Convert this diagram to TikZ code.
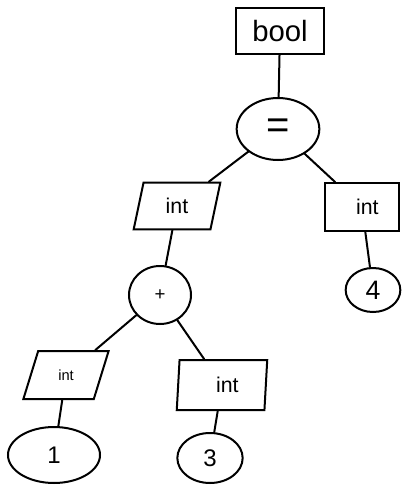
\documentclass[tikz,border=0pt]{standalone}
\usepackage{fontspec}
\setmainfont{Liberation Sans}
\usetikzlibrary{shapes.geometric}
\begin{document}
\begin{tikzpicture}[x=0.75pt,y=-0.75pt, line width=1.5pt, line cap=round,
  box/.style={draw, rectangle, inner sep=0pt},
  para/.style={draw, trapezium, trapezium left angle=#1, trapezium right angle=180-#1, trapezium stretches=true, inner sep=0pt},
  oval/.style={draw, ellipse, inner sep=0pt},
  fs/.style={font=\fontsize{#1}{#1}\selectfont}]
\useasboundingbox (0,0) rectangle (405,486);
\node[box, minimum width=66pt, minimum height=34.5pt, fs=22] (bool) at (280,31) {bool};
\node[oval, minimum width=62pt, minimum height=46.5pt, fs=30] (eq) at (278,129) {=};
\node[para=78, minimum width=65pt, minimum height=35pt, fs=16] (intL) at (177,206) {int};
\node[box, minimum width=56pt, minimum height=36pt, fs=16] (intR) at (362,207) {\hspace{8pt}int};
\node[oval, minimum width=46.5pt, minimum height=43.5pt, fs=14] (plus) at (160,295) {+};
\node[oval, minimum width=41pt, minimum height=33pt, fs=20] (four) at (373,290) {4};
\node[para=69, minimum width=64pt, minimum height=36pt, fs=11] (intBL) at (66,375) {int};
\node[oval, minimum width=69pt, minimum height=42pt, fs=18] (one) at (54,455) {1};
\node[para=86, minimum width=68pt, minimum height=37.5pt, fs=16] (intBR) at (222,385) {\hspace{8pt}int};
\node[oval, minimum width=49pt, minimum height=37.5pt, fs=18] (three) at (210,458) {3};
\draw (bool) -- (eq);
\draw (eq) -- (intL);
\draw (eq) -- (intR);
\draw (intL) -- (plus);
\draw (intR) -- (four);
\draw (plus) -- (intBL);
\draw (plus) -- (intBR);
\draw (intBL) -- (one);
\draw (intBR) -- (three);
\end{tikzpicture}
\end{document}
